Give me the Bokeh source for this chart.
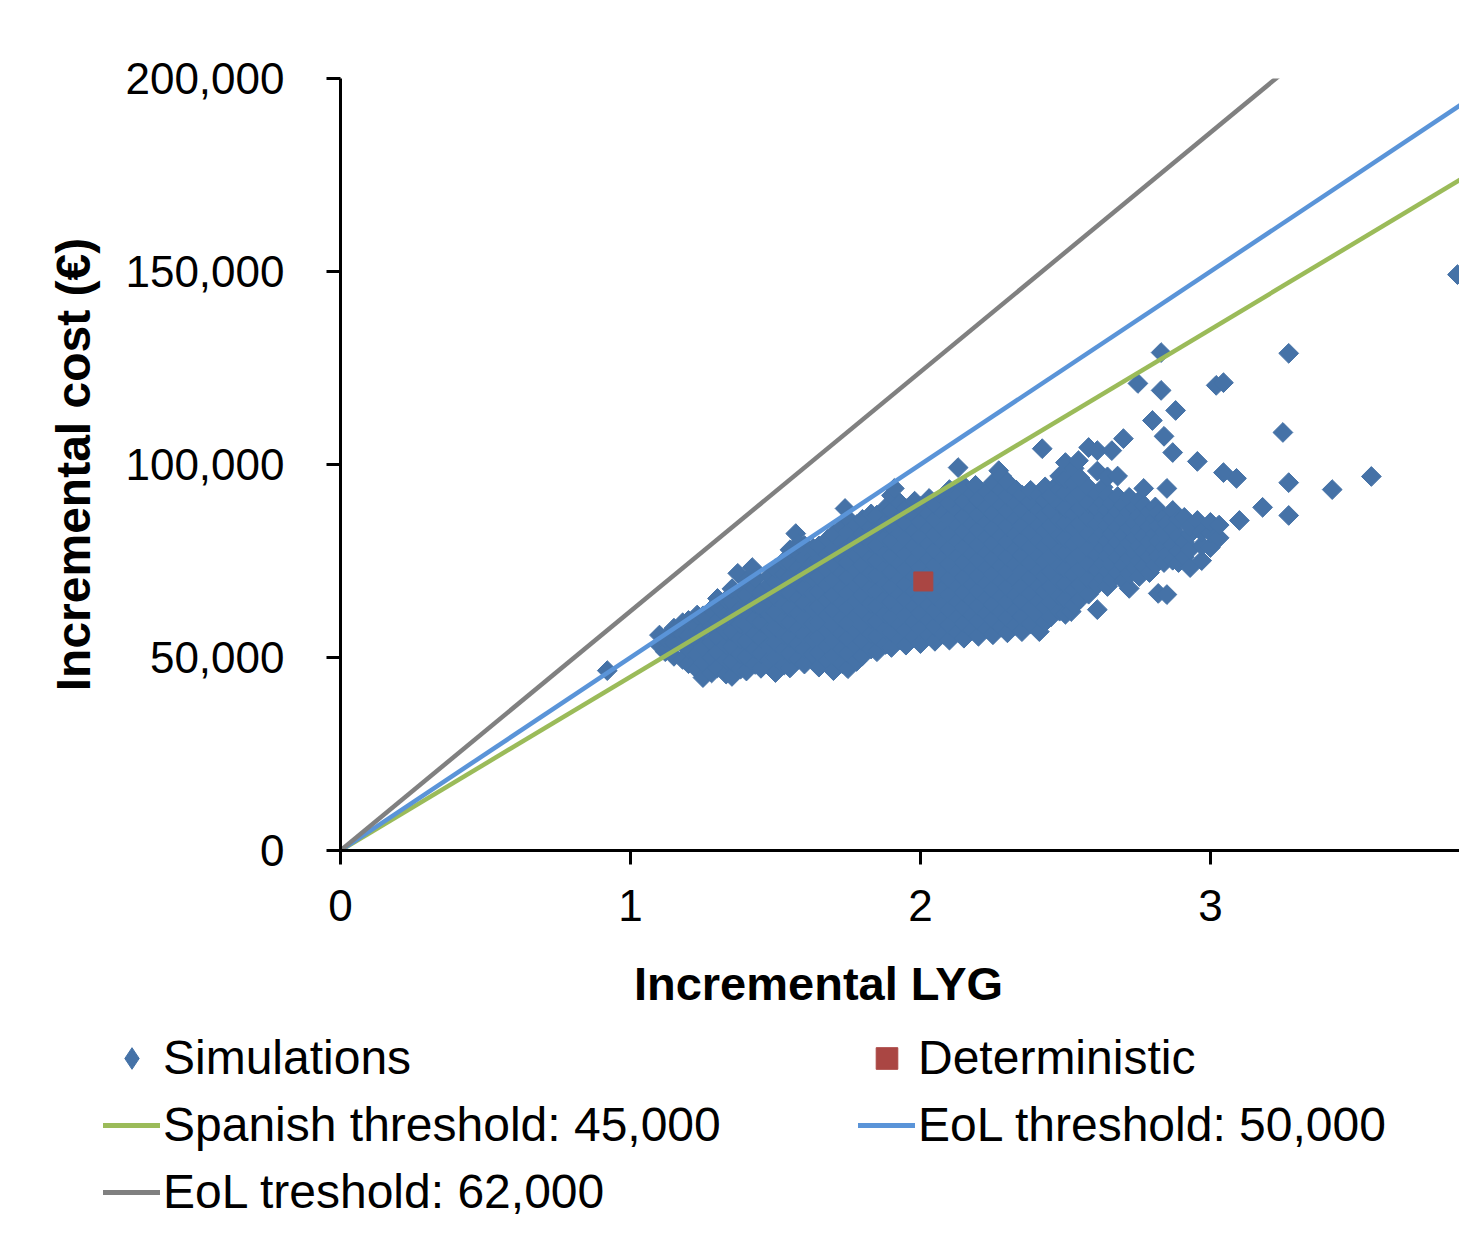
import numpy as np
from bokeh.plotting import figure
from bokeh.models import Legend, LegendItem, Label, FixedTicker, NumeralTickFormatter, Range1d
from bokeh.embed import file_html
from bokeh.resources import INLINE

# ---------------- data ----------------
# Probabilistic simulations: (incremental LYG, [incremental costs in thousand EUR])
sim_columns = [
    (1.10, [53.2, 55.8]),
    (1.12, [51.5, 55.0]),
    (1.15, [50.3, 53.8, 57.6]),
    (1.18, [49.5, 56.0, 59.0]),
    (1.20, [48.4, 52.1, 55.6, 59.6]),
    (1.23, [46.9, 50.8, 54.5, 58.2, 61.0]),
    (1.25, [44.8, 48.6, 52.7, 56.9, 60.8]),
    (1.28, [46.0, 50.0, 54.0, 58.1, 62.5]),
    (1.30, [47.3, 51.4, 55.3, 59.4, 63.4, 65.3]),
    (1.33, [45.7, 49.3, 53.2, 57.0, 61.1, 65.0]),
    (1.35, [45.1, 48.9, 52.8, 56.8, 60.7, 64.6, 67.8]),
    (1.37, [71.8]),
    (1.38, [47.0, 50.9, 54.8, 58.7, 62.6, 66.5]),
    (1.40, [46.5, 50.2, 54.2, 58.3, 62.2, 66.1, 69.9]),
    (1.42, [73.3]),
    (1.43, [48.2, 52.2, 56.1, 60.0, 64.0, 67.9, 70.6]),
    (1.45, [47.2, 51.0, 55.0, 59.1, 63.0, 66.8]),
    (1.48, [49.4, 53.3, 57.3, 61.2, 65.2, 69.1, 71.2]),
    (1.50, [46.1, 50.0, 53.9, 57.8, 61.8, 65.7, 69.6, 73.0]),
    (1.53, [48.0, 52.0, 55.9, 59.8, 63.8, 67.7, 71.6, 75.0]),
    (1.55, [47.3, 51.1, 55.1, 59.0, 63.0, 66.9, 70.8, 74.7, 77.9]),
    (1.57, [82.1]),
    (1.58, [49.6, 53.5, 57.4, 61.4, 65.3, 69.2, 73.2, 77.1, 79.5]),
    (1.60, [48.3, 52.3, 56.2, 60.1, 64.1, 68.0, 72.0, 75.9, 79.0]),
    (1.63, [50.8, 54.7, 58.7, 62.6, 66.5, 70.5, 74.4, 78.3]),
    (1.65, [47.5, 51.3, 55.3, 59.2, 63.2, 67.1, 71.0, 75.0, 78.9]),
    (1.68, [49.2, 53.0, 57.0, 60.9, 64.9, 68.8, 72.7, 76.7, 80.6]),
    (1.70, [46.6, 50.5, 54.4, 58.3, 62.3, 66.2, 70.2, 74.1, 78.0, 82.0]),
    (1.73, [48.4, 52.2, 56.2, 60.1, 64.1, 68.0, 71.9, 75.9, 79.8, 83.8]),
    (1.74, [88.6]),
    (1.75, [47.1, 51.0, 54.9, 58.9, 62.8, 66.7, 70.7, 74.6, 78.6, 82.5, 86.0]),
    (1.78, [49.0, 52.9, 56.8, 60.8, 64.7, 68.6, 72.6, 76.5, 80.5, 84.4]),
    (1.80, [50.4, 54.3, 58.3, 62.2, 66.1, 70.1, 74.0, 78.0, 81.9, 85.8]),
    (1.83, [52.2, 56.1, 60.0, 64.0, 67.9, 71.9, 75.8, 79.7, 83.7, 87.2]),
    (1.85, [51.5, 55.4, 59.3, 63.3, 67.2, 71.2, 75.1, 79.0, 83.0, 86.9]),
    (1.88, [53.4, 57.3, 61.3, 65.2, 69.1, 73.1, 77.0, 81.0, 84.9, 88.8]),
    (1.90, [52.6, 56.5, 60.4, 64.4, 68.3, 72.2, 76.2, 80.1, 84.1, 88.0, 92.0]),
    (1.91, [93.8]),
    (1.93, [54.6, 58.5, 62.5, 66.4, 70.3, 74.3, 78.2, 82.2, 86.1, 90.0]),
    (1.95, [53.2, 57.1, 61.0, 65.0, 68.9, 72.9, 76.8, 80.7, 84.7, 88.6]),
    (1.98, [55.3, 59.2, 63.2, 67.1, 71.0, 75.0, 78.9, 82.9, 86.8, 90.5]),
    (2.00, [53.6, 57.5, 61.5, 65.4, 69.4, 73.3, 77.2, 81.2, 85.1, 89.1]),
    (2.03, [55.8, 59.7, 63.6, 67.6, 71.5, 75.5, 79.4, 83.3, 87.3, 91.2]),
    (2.05, [54.2, 58.1, 62.1, 66.0, 70.0, 73.9, 77.8, 81.8, 85.7, 89.7]),
    (2.08, [56.0, 59.9, 63.8, 67.8, 71.7, 75.7, 79.6, 83.5, 87.5, 91.4]),
    (2.10, [54.5, 58.4, 62.4, 66.3, 70.3, 74.2, 78.1, 82.1, 86.0, 90.0, 93.5]),
    (2.13, [56.5, 60.4, 64.4, 68.3, 72.2, 76.2, 80.1, 84.1, 88.0, 91.9, 99.2]),
    (2.15, [55.0, 58.9, 62.9, 66.8, 70.7, 74.7, 78.6, 82.6, 86.5, 90.4, 94.4]),
    (2.18, [57.1, 61.0, 64.9, 68.9, 72.8, 76.8, 80.7, 84.6, 88.6, 92.5]),
    (2.19, [94.6]),
    (2.20, [55.5, 59.4, 63.3, 67.3, 71.2, 75.2, 79.1, 83.0, 87.0, 90.9]),
    (2.23, [57.4, 61.4, 65.3, 69.2, 73.2, 77.1, 81.1, 85.0, 88.9, 92.9]),
    (2.25, [55.9, 59.8, 63.8, 67.7, 71.6, 75.6, 79.5, 83.5, 87.4, 91.3, 95.3]),
    (2.27, [98.4]),
    (2.28, [57.9, 61.8, 65.8, 69.7, 73.7, 77.6, 81.5, 85.5, 89.4, 93.4, 97.0]),
    (2.30, [56.4, 60.3, 64.3, 68.2, 72.1, 76.1, 80.0, 84.0, 87.9, 91.8, 95.4]),
    (2.33, [58.3, 62.2, 66.2, 70.1, 74.1, 78.0, 81.9, 85.9, 89.8, 93.4]),
    (2.35, [56.7, 60.6, 64.6, 68.5, 72.4, 76.4, 80.3, 84.3, 88.2, 92.1]),
    (2.38, [58.8, 62.7, 66.6, 70.6, 74.5, 78.5, 82.4, 86.3, 90.3, 93.3]),
    (2.41, [56.7, 60.6, 64.6, 68.5, 72.5, 76.4, 80.3, 84.3, 88.2, 92.0]),
    (2.42, [104.1]),
    (2.43, [59.2, 63.1, 67.1, 71.0, 74.9, 78.9, 82.8, 86.8, 90.7, 94.2]),
    (2.45, [60.5, 64.4, 68.4, 72.3, 76.3, 80.2, 84.1, 88.1, 92.0]),
    (2.47, [94.6]),
    (2.48, [62.0, 65.9, 69.9, 73.8, 77.7, 81.7, 85.6, 89.6, 93.5, 97.0]),
    (2.50, [61.2, 65.2, 69.1, 73.0, 77.0, 80.9, 84.9, 88.8, 92.7, 96.2, 100.5]),
    (2.52, [61.9]),
    (2.53, [63.6, 67.5, 71.5, 75.4, 79.4, 83.3, 87.2, 91.2, 95.1, 99.0]),
    (2.545, [101.0]),
    (2.55, [65.0, 68.9, 72.9, 76.8, 80.7, 84.7, 88.6, 92.6, 96.5]),
    (2.58, [66.4, 70.3, 74.3, 78.2, 82.1, 86.1, 90.0, 94.0, 104.4]),
    (2.61, [62.4, 68.8, 72.7, 76.6, 80.6, 84.5, 88.5, 92.4, 98.3, 103.6]),
    (2.63, [70.5, 74.4, 78.4, 82.3, 86.2, 90.2, 94.1]),
    (2.645, [68.4, 72.3, 76.3, 80.2, 84.2, 88.1, 92.0, 96.8]),
    (2.66, [70.3, 74.2, 78.2, 82.1, 86.0, 90.0, 103.6]),
    (2.68, [72.0, 76.0, 79.9, 83.8, 87.8, 91.7, 97.0]),
    (2.70, [69.8, 73.9, 77.8, 81.7, 85.7, 89.6, 106.7]),
    (2.72, [67.9, 71.8, 75.7, 79.7, 83.6, 87.6, 91.5]),
    (2.74, [73.2, 77.1, 81.0, 85.0, 88.9]),
    (2.75, [121.0]),
    (2.755, [71.0, 75.0, 78.9, 82.9, 86.8, 90.7]),
    (2.77, [73.6, 77.5, 81.5, 85.4, 89.4, 93.8]),
    (2.79, [72.0, 76.0, 79.9, 83.9, 87.8]),
    (2.80, [111.4]),
    (2.81, [74.0, 77.9, 81.9, 85.8, 89.0]),
    (2.82, [66.6, 76.2, 80.2, 84.1, 87.5]),
    (2.83, [129.0, 119.2]),
    (2.84, [107.3, 74.6, 78.6, 82.5, 86.4]),
    (2.85, [66.3, 76.8, 80.7, 84.7, 93.8]),
    (2.87, [75.2, 79.2, 83.2, 88.1, 103.1]),
    (2.88, [114.0]),
    (2.89, [74.6, 77.5, 81.5, 85.8]),
    (2.91, [76.0, 80.0, 86.3]),
    (2.93, [73.3, 78.0, 82.0, 84.0]),
    (2.955, [85.5, 100.8]),
    (2.97, [75.1, 79.0, 82.5]),
    (3.00, [78.5, 82.3, 85.0]),
    (3.02, [120.5]),
    (3.03, [81.0, 84.3]),
    (3.045, [121.2, 97.9]),
    (3.09, [96.4]),
    (3.10, [85.5]),
    (3.18, [88.9]),
    (3.25, [108.3]),
    (3.27, [128.8, 95.3, 86.8]),
    (3.42, [93.5]),
    (3.555, [96.9]),
    (3.852, [149.2]),
    (0.92, [46.6]),
]

sim_lyg = [x for x, costs in sim_columns for _ in costs]
sim_cost = [c * 1000 for _, costs in sim_columns for c in costs]

det_lyg = [2.01]
det_cost = [69700]

threshold_names = ["Spanish threshold: 45,000", "EoL threshold: 50,000", "EoL treshold: 62,000"]
threshold_values = [45000, 50000, 62000]
threshold_colors = ["#9BBB59", "#5A94D8", "#808080"]

x_ticks = [0, 1, 2, 3]
y_ticks = [0, 50000, 100000, 150000, 200000]

FONT = "Liberation Sans"
SIM_COLOR = "#4572A7"
DET_COLOR = "#AA4643"
W = 1459
H1 = 950
H2 = 270

# ---------------- main plot ----------------
p = figure(width=W, height=H1, output_backend="svg", toolbar_location=None,
           x_range=Range1d(0, 3.859), y_range=Range1d(0, 200000),
           min_border_left=340, min_border_top=78, min_border_right=0, min_border_bottom=100)
p.grid.visible = False
p.outline_line_color = None

p.scatter(sim_lyg, sim_cost, marker="square", size=14, angle=np.pi / 4,
          fill_color=SIM_COLOR, line_color=SIM_COLOR, line_width=1)

x_line = [0, 4]
for t, col in zip(threshold_values, threshold_colors):
    p.line(x_line, [0, t * x_line[1]], line_color=col, line_width=4.5)

p.scatter(det_lyg, det_cost, marker="square", size=19, fill_color=DET_COLOR, line_color=DET_COLOR)

for ax in (p.xaxis[0], p.yaxis[0]):
    ax.axis_line_width = 3
    ax.axis_line_color = "black"
    ax.major_tick_line_width = 3
    ax.major_tick_line_color = "black"
    ax.major_tick_out = 14
    ax.major_tick_in = 0
    ax.minor_tick_out = 0
    ax.minor_tick_in = 0
    ax.major_label_text_font = FONT
    ax.major_label_text_font_size = "44px"
    ax.major_label_text_color = "black"

p.xaxis.ticker = FixedTicker(ticks=x_ticks)
p.xaxis.major_label_standoff = 25
p.yaxis.ticker = FixedTicker(ticks=y_ticks)
p.yaxis.formatter = NumeralTickFormatter(format="0,0")
p.yaxis.major_label_standoff = 42
p.yaxis.axis_label = "Incremental cost (€)"
p.yaxis.axis_label_text_font = FONT
p.yaxis.axis_label_text_font_size = "48px"
p.yaxis.axis_label_text_font_style = "bold"
p.yaxis.axis_label_text_color = "black"
p.yaxis.axis_label_standoff = 22

# ---------------- x title + legend panel (separate root, no frame alignment) ----------------
q = figure(width=W, height=H2, output_backend="svg", toolbar_location=None,
           x_range=Range1d(0, W), y_range=Range1d(0, H2),
           x_axis_location=None, y_axis_location=None, min_border=0)
q.grid.visible = False
q.outline_line_color = None

q.add_layout(Label(x=818, y=H2 - 33, text="Incremental LYG", text_align="center",
                   text_baseline="middle", text_font=FONT, text_font_size="47px",
                   text_font_style="bold", text_color="black"))

nan = [float("nan")]
l_sim = q.scatter(nan, nan, marker="diamond", fill_color=SIM_COLOR, line_color=SIM_COLOR)
l_det = q.scatter(nan, nan, marker="square", fill_color=DET_COLOR, line_color=DET_COLOR)
l_lines = [q.line(nan, nan, line_color=c, line_width=5, line_cap="round") for c in threshold_colors]

items = [
    LegendItem(label="Simulations", renderers=[l_sim]),
    LegendItem(label="Deterministic", renderers=[l_det]),
    LegendItem(label=threshold_names[0], renderers=[l_lines[0]]),
    LegendItem(label=threshold_names[1], renderers=[l_lines[1]]),
    LegendItem(label=threshold_names[2], renderers=[l_lines[2]]),
]
legend = Legend(items=items, orientation="horizontal", ncols=2, location=(103, 1),
                label_text_font=FONT, label_text_font_size="48px", label_text_color="black",
                glyph_width=57, glyph_height=54, label_height=54, label_width=683,
                label_standoff=3, spacing=12, padding=0, margin=0,
                border_line_color=None, background_fill_alpha=0)
q.add_layout(legend)

open("out.html", "w").write(file_html([p, q], INLINE))
